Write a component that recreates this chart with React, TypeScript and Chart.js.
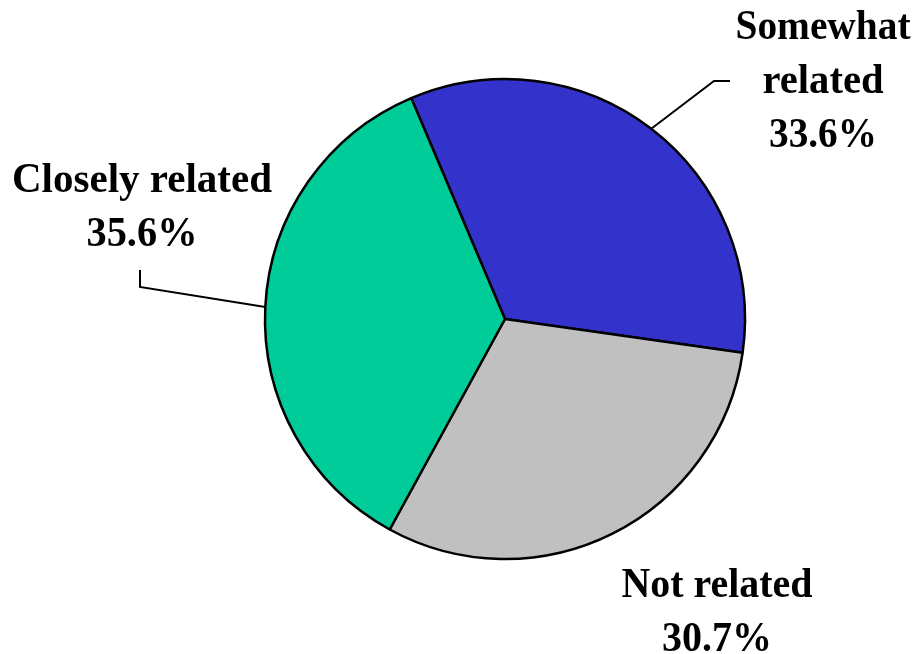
import { useEffect, useRef } from "react";
import { Chart, registerables } from "chart.js";

Chart.register(...registerables);

const categories = ["Somewhat related", "Not related", "Closely related"];
const values = [33.6, 30.7, 35.6];
const labelLines = [
  ["Somewhat", "related", "33.6%"],
  ["Not related", "30.7%"],
  ["Closely related", "35.6%"],
];
const colors = ["#3333CC", "#C0C0C0", "#00CC99"];

const labelPlugin = {
  id: "outsideLabels",
  afterDraw(chart: any) {
    const ctx = chart.ctx;
    const meta = chart.getDatasetMeta(0);
    ctx.save();
    ctx.font = "bold 42px 'Liberation Serif', 'Times New Roman', serif";
    ctx.fillStyle = "#000";
    ctx.textAlign = "center";
    ctx.textBaseline = "alphabetic";
    const lh = 54;
    const pos = [
      { x: 823, y: 39, w: [175, 121, 108] },
      { x: 717, y: 597, w: [191, 110] },
      { x: 142, y: 192, w: [260, 111] },
    ];
    labelLines.forEach((lines, i) => {
      lines.forEach((t, j) =>
        ctx.fillText(t, pos[i].x, pos[i].y + j * lh, pos[i].w[j])
      );
    });
    ctx.strokeStyle = "#000";
    ctx.lineWidth = 2;
    const anchor = (i: number) => {
      const arc = meta.data[i];
      const mid = (arc.startAngle + arc.endAngle) / 2;
      return {
        x: arc.x + Math.cos(mid) * arc.outerRadius,
        y: arc.y + Math.sin(mid) * arc.outerRadius,
      };
    };
    const a0 = anchor(0);
    ctx.beginPath();
    ctx.moveTo(a0.x, a0.y);
    ctx.lineTo(714, 81);
    ctx.lineTo(730, 81);
    ctx.stroke();
    const a2 = anchor(2);
    ctx.beginPath();
    ctx.moveTo(a2.x, a2.y);
    ctx.lineTo(140, 287);
    ctx.lineTo(140, 270);
    ctx.stroke();
    ctx.restore();
  },
};

export default function App() {
  const ref = useRef<HTMLCanvasElement>(null);
  useEffect(() => {
    if (!ref.current) return;
    const chart = new Chart(ref.current, {
      type: "pie",
      data: {
        labels: categories,
        datasets: [
          {
            data: values,
            backgroundColor: colors,
            borderColor: "#000",
            borderWidth: 2.5,
            radius: 240,
          } as any,
        ],
      },
      options: {
        animation: false,
        responsive: true,
        maintainAspectRatio: false,
        rotation: -23,
        layout: { padding: { left: 96, right: 0, top: 0, bottom: 16 } },
        plugins: {
          legend: { display: false },
          tooltip: { enabled: false },
          title: { display: false },
        },
      },
      plugins: [labelPlugin],
    });
    return () => chart.destroy();
  }, []);
  return (
    <div
      style={{
        position: "fixed",
        left: 0,
        top: 0,
        width: "914px",
        height: "654px",
        background: "#fff",
      }}
    >
      <canvas ref={ref} />
    </div>
  );
}
